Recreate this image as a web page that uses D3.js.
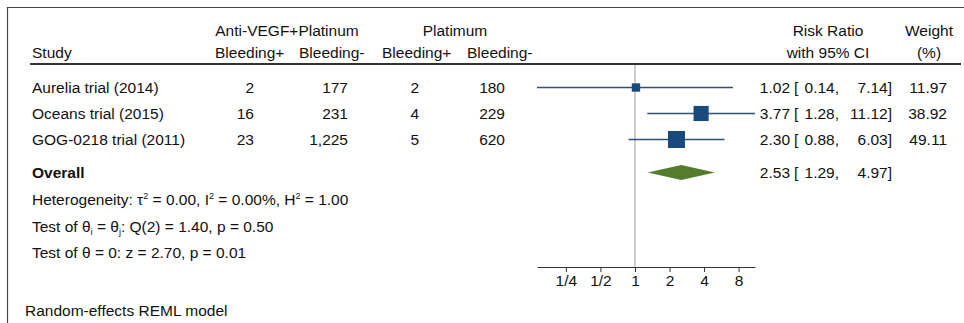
<!DOCTYPE html>
<html>
<head>
<meta charset="utf-8">
<script src="https://cdn.jsdelivr.net/npm/d3@7"></script>
<style>
  body { margin: 0; background: #fff; }
  svg text { font-family: "Liberation Sans", Arial, sans-serif; font-size: 15.5px; fill: #111; }
</style>
</head>
<body>
<div id="chart"></div>
<script>
// data
var studies = ["Aurelia trial (2014)", "Oceans trial (2015)", "GOG-0218 trial (2011)"];
var trtPos = [2, 16, 23];
var trtNeg = [177, 231, 1225];
var ctlPos = [2, 4, 5];
var ctlNeg = [180, 229, 620];
var rr = [1.02, 3.77, 2.30];
var lo = [0.14, 1.28, 0.88];
var hi = [7.14, 11.12, 6.03];
var weight = [11.97, 38.92, 49.11];
var overall = [2.53, 1.29, 4.97];   // est, lower, upper
var tickVals = [0.25, 0.5, 1, 2, 4, 8];
var tickLabels = ["1/4", "1/2", "1", "2", "4", "8"];

var W = 964, H = 323;
var svg = d3.select("#chart").append("svg").attr("width", W).attr("height", H);

// frame (only top + left visible in the crop)
svg.append("path").attr("d", "M7.5," + H + "V7.5H" + W)
  .attr("fill", "none").attr("stroke", "#444").attr("stroke-width", 1.2);

var x = d3.scaleLog().base(2).domain([d3.min(lo), d3.max(hi)]).range([537, 755]);
var rowY = d3.scaleLinear().domain([0, 1]).range([87.5, 113.5]);
var overallY = 172.5;
var axisY = 267;
var base = 5.5; // center -> baseline

var fmt = d3.format(",");
var f2 = d3.format(".2f");

// column right edges
var cols = [254, 348, 419, 505];
var colData = [trtPos, trtNeg, ctlPos, ctlNeg];

// header
function txt(s, xx, yy, anchor) {
  return svg.append("text").attr("x", xx).attr("y", yy + base)
    .attr("text-anchor", anchor || "start").text(s);
}
txt("Anti-VEGF+Platinum", 287, 30, "middle");
txt("Platimum", 455, 30, "middle");
txt("Study", 32, 52);
txt("Bleeding+", 215, 52);
txt("Bleeding-", 299, 52);
txt("Bleeding+", 382, 52);
txt("Bleeding-", 467, 52);
txt("Risk Ratio", 828, 30, "middle");
txt("with 95% CI", 828, 52, "middle");
txt("Weight", 929, 30, "middle");
txt("(%)", 929, 52, "middle");

svg.append("line").attr("x1", 30).attr("x2", 961).attr("y1", 64).attr("y2", 64)
  .attr("stroke", "#333").attr("stroke-width", 2);

// reference line at RR = 1
svg.append("line").attr("x1", x(1)).attr("x2", x(1)).attr("y1", 65).attr("y2", axisY)
  .attr("stroke", "#999").attr("stroke-width", 1);

// study rows
var rows = svg.selectAll("g.row").data(studies).enter().append("g").attr("class", "row");
rows.append("text").attr("x", 32).attr("y", function(d, i) { return rowY(i) + base; }).text(function(d) { return d; });
colData.forEach(function(arr, c) {
  rows.append("text").attr("x", cols[c]).attr("text-anchor", "end")
    .attr("y", function(d, i) { return rowY(i) + base; })
    .text(function(d, i) { return fmt(arr[i]); });
});

// CI lines and weighted squares
rows.append("line")
  .attr("x1", function(d, i) { return x(lo[i]); })
  .attr("x2", function(d, i) { return x(hi[i]); })
  .attr("y1", function(d, i) { return rowY(i); })
  .attr("y2", function(d, i) { return rowY(i); })
  .attr("stroke", "#2f5275").attr("stroke-width", 1.5);

var side = d3.scaleSqrt().domain([0, d3.max(weight)]).range([0, 17]);
rows.append("rect")
  .attr("x", function(d, i) { return x(rr[i]) - side(weight[i]) / 2; })
  .attr("y", function(d, i) { return rowY(i) - side(weight[i]) / 2; })
  .attr("width", function(d, i) { return side(weight[i]); })
  .attr("height", function(d, i) { return side(weight[i]); })
  .attr("fill", "#184a7c");

// estimate text columns
function ciText(g, yy, est, l, u, w) {
  g.append("text").attr("x", 790).attr("y", yy + base).attr("text-anchor", "end").text(f2(est));
  g.append("text").attr("x", 794).attr("y", yy + base).text("[");
  g.append("text").attr("x", 839).attr("y", yy + base).attr("text-anchor", "end").text(f2(l) + ",");
  g.append("text").attr("x", 892).attr("y", yy + base).attr("text-anchor", "end").text(f2(u) + "]");
  if (w != null) g.append("text").attr("x", 947).attr("y", yy + base).attr("text-anchor", "end").text(f2(w));
}
rows.each(function(d, i) { ciText(d3.select(this), rowY(i), rr[i], lo[i], hi[i], weight[i]); });

// overall
txt("Overall", 32, overallY).attr("font-weight", "bold");
svg.append("path")
  .attr("d", "M" + x(overall[1]) + "," + overallY +
             "L" + x(overall[0]) + "," + (overallY - 7.5) +
             "L" + x(overall[2]) + "," + overallY +
             "L" + x(overall[0]) + "," + (overallY + 7.5) + "Z")
  .attr("fill", "#537d2c");
ciText(svg, overallY, overall[0], overall[1], overall[2], null);

// stats lines
var t1 = txt("", 32, 199);
t1.append("tspan").text("Heterogeneity: τ");
t1.append("tspan").attr("dy", -6).attr("font-size", "9px").text("2");
t1.append("tspan").attr("dy", 6).text(" = 0.00, I");
t1.append("tspan").attr("dy", -6).attr("font-size", "9px").text("2");
t1.append("tspan").attr("dy", 6).text(" = 0.00%, H");
t1.append("tspan").attr("dy", -6).attr("font-size", "9px").text("2");
t1.append("tspan").attr("dy", 6).text(" = 1.00");

var t2 = txt("", 32, 226);
t2.append("tspan").text("Test of θ");
t2.append("tspan").attr("dy", 3).attr("font-size", "9px").text("i");
t2.append("tspan").attr("dy", -3).text(" = θ");
t2.append("tspan").attr("dy", 3).attr("font-size", "9px").text("j");
t2.append("tspan").attr("dy", -3).text(": Q(2) = 1.40, p = 0.50");

txt("Test of θ = 0: z = 2.70, p = 0.01", 32, 252);
txt("Random-effects REML model", 25, 310);

// axis
var axis = d3.axisBottom(x).tickValues(tickVals)
  .tickFormat(function(d, i) { return tickLabels[i]; })
  .tickSize(5).tickPadding(3).tickSizeOuter(0);
var ga = svg.append("g").attr("transform", "translate(0," + axisY + ")").call(axis);
ga.select(".domain").attr("stroke", "#333");
ga.selectAll(".tick line").attr("stroke", "#333");
ga.selectAll(".tick text").attr("font-size", "15.5px").attr("font-family", "Liberation Sans, Arial, sans-serif").attr("fill", "#111");
</script>
</body>
</html>
